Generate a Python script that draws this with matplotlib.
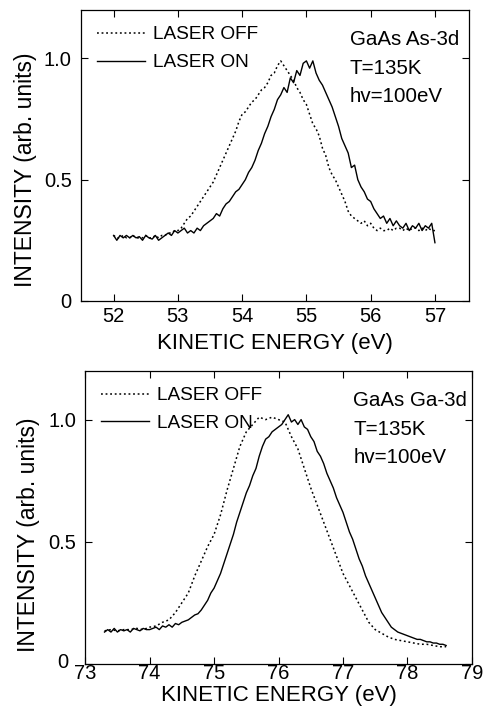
import numpy as np
import matplotlib
matplotlib.use('Agg')
import matplotlib.pyplot as plt
import matplotlib.transforms as mtransforms

plt.rcParams['font.family'] = ['Liberation Sans', 'DejaVu Sans']

# As-3d panel, sampled every 0.05 eV from 52.00 to 57.00
as_energy = np.round(np.linspace(52.0, 57.0, 101), 2)
as_on = [0.27, 0.25, 0.27, 0.26, 0.27, 0.26, 0.27, 0.26, 0.265, 0.25,
         0.27, 0.26, 0.255, 0.27, 0.25, 0.26, 0.27, 0.28, 0.27, 0.29,
         0.28, 0.29, 0.30, 0.28, 0.29, 0.28, 0.30, 0.29, 0.31, 0.32,
         0.33, 0.34, 0.36, 0.35, 0.38, 0.40, 0.41, 0.43, 0.45, 0.46,
         0.48, 0.50, 0.53, 0.55, 0.58, 0.62, 0.65, 0.69, 0.72, 0.76,
         0.79, 0.83, 0.85, 0.88, 0.86, 0.92, 0.90, 0.95, 0.93, 0.98,
         0.99, 0.96, 0.99, 0.94, 0.91, 0.89, 0.86, 0.83, 0.80, 0.76,
         0.72, 0.67, 0.64, 0.61, 0.55, 0.56, 0.50, 0.47, 0.45, 0.42,
         0.41, 0.38, 0.36, 0.34, 0.35, 0.32, 0.34, 0.31, 0.33, 0.31,
         0.30, 0.32, 0.29, 0.31, 0.30, 0.32, 0.29, 0.31, 0.30, 0.32,
         0.24]
as_off = [0.27, 0.26, 0.26, 0.27, 0.26, 0.26, 0.27, 0.26, 0.26, 0.26,
          0.27, 0.26, 0.26, 0.27, 0.26, 0.27, 0.27, 0.28, 0.28, 0.29,
          0.29, 0.30, 0.32, 0.34, 0.35, 0.37, 0.39, 0.41, 0.43, 0.45,
          0.47, 0.49, 0.52, 0.55, 0.58, 0.61, 0.64, 0.67, 0.70, 0.74,
          0.77, 0.78, 0.80, 0.82, 0.83, 0.85, 0.87, 0.88, 0.90, 0.93,
          0.94, 0.97, 0.99, 0.97, 0.95, 0.93, 0.91, 0.88, 0.86, 0.83,
          0.81, 0.77, 0.73, 0.71, 0.68, 0.63, 0.60, 0.55, 0.52, 0.50,
          0.47, 0.44, 0.41, 0.37, 0.35, 0.34, 0.33, 0.32, 0.33, 0.31,
          0.32, 0.30, 0.29, 0.30, 0.29, 0.29, 0.30, 0.29, 0.30, 0.30,
          0.29, 0.30, 0.29, 0.30, 0.30, 0.29, 0.30, 0.29, 0.30, 0.29,
          0.29]

# Ga-3d panel
ga_energy_on = np.round(np.linspace(73.3, 78.6, 107), 2)
ga_on = [0.13, 0.14, 0.13, 0.145, 0.13, 0.14, 0.135, 0.14, 0.13, 0.145,
         0.14, 0.135, 0.145, 0.14,
         0.14, 0.145, 0.15, 0.14, 0.155, 0.15, 0.16, 0.15, 0.165, 0.16,
         0.17, 0.175, 0.18, 0.19, 0.20, 0.205, 0.22, 0.24, 0.26, 0.29,
         0.31, 0.34, 0.37, 0.41, 0.45, 0.49, 0.53, 0.58, 0.62, 0.66,
         0.70, 0.73, 0.77, 0.80, 0.85, 0.89, 0.92, 0.93, 0.95, 0.96,
         0.97, 0.98, 1.00, 1.02, 0.99, 1.00, 0.98, 1.00, 0.97, 0.96,
         0.93, 0.91, 0.87, 0.85, 0.82, 0.78, 0.75, 0.72, 0.68, 0.65,
         0.62, 0.58, 0.54, 0.51, 0.47, 0.43, 0.40, 0.36, 0.33, 0.30,
         0.27, 0.24, 0.21, 0.19, 0.17, 0.15, 0.14, 0.13, 0.125, 0.12,
         0.115, 0.11, 0.105, 0.10, 0.10, 0.095, 0.09, 0.09, 0.085, 0.085,
         0.08, 0.08, 0.075]
ga_energy_off = np.round(np.linspace(73.3, 78.6, 54), 2)
ga_off = [0.135, 0.14, 0.135, 0.14, 0.14, 0.145, 0.14,
          0.15, 0.155, 0.17, 0.18, 0.21, 0.25, 0.29, 0.36, 0.42, 0.48,
          0.53, 0.61, 0.71, 0.80, 0.89, 0.95, 0.98, 1.01, 1.00, 1.01,
          1.00, 0.99, 0.93, 0.88, 0.80, 0.72, 0.65, 0.58, 0.51, 0.44,
          0.37, 0.32, 0.27, 0.22, 0.17, 0.14, 0.125, 0.11, 0.10, 0.095,
          0.09, 0.085, 0.08, 0.08, 0.075, 0.07, 0.07]

fig = plt.figure(figsize=(4.84, 7.13), dpi=100)
ax1 = fig.add_axes([0.167, 0.578, 0.802, 0.408])
ax2 = fig.add_axes([0.176, 0.069, 0.799, 0.411])


def style(ax, xlim, xticks, notes, xpad, xlab_y, ylab_x, ylab_y):
    ax.set_xlim(*xlim)
    ax.set_ylim(0, 1.2)
    ax.set_xticks(xticks)
    ax.set_yticks([0, 0.5, 1.0])
    ax.set_yticklabels(['0', '0.5', '1.0'])
    ax.tick_params(direction='in', top=True, right=True, length=5,
                   width=0.8, labelsize=14.5)
    ax.tick_params(axis='x', pad=xpad)
    ax.tick_params(axis='y', pad=6.5)
    for s in ax.spines.values():
        s.set_linewidth(0.9)
    ax.set_xlabel('KINETIC ENERGY (eV)', fontsize=16)
    ax.set_ylabel('INTENSITY (arb. units)', fontsize=16.5)
    ax.xaxis.set_label_coords(0.5, xlab_y)
    ax.yaxis.set_label_coords(ylab_x, ylab_y)
    ax.legend(loc='upper left', frameon=False, fontsize=13.7,
              handlelength=2.5, handletextpad=0.45, labelspacing=0.55,
              borderaxespad=0.45, bbox_to_anchor=(0.0, 1.0))
    ax.text(0.693, 0.93, notes, transform=ax.transAxes, fontsize=14.8,
            va='top', ha='left', linespacing=1.62)


ax1.plot(as_energy, as_off, color='k', lw=1.1, ls=(0, (1.2, 1.8)), label='LASER OFF')
ax1.plot(as_energy, as_on, color='k', lw=1.0, label='LASER ON')
style(ax1, (51.49, 57.53), [52, 53, 54, 55, 56, 57],
      'GaAs As-3d\nT=135K\nhv=100eV', 4.5, -0.11, -0.113, 0.45)

ax2.plot(ga_energy_off, ga_off, color='k', lw=1.1, ls=(0, (1.2, 1.8)), label='LASER OFF')
ax2.plot(ga_energy_on, ga_on, color='k', lw=1.0, label='LASER ON')
style(ax2, (73, 79), [73, 74, 75, 76, 77, 78, 79],
      'GaAs Ga-3d\nT=135K\nhv=100eV', 0.0, -0.072, -0.116, 0.44)

# the "0" of the lower panel sits a little up and left, clear of "73"
zero_lab = ax2.get_yticklabels()[0]
shift = mtransforms.ScaledTranslation(-8 / 100, 3 / 100, fig.dpi_scale_trans)
zero_lab.set_transform(zero_lab.get_transform() + shift)

fig.savefig('out.png', dpi=100)
